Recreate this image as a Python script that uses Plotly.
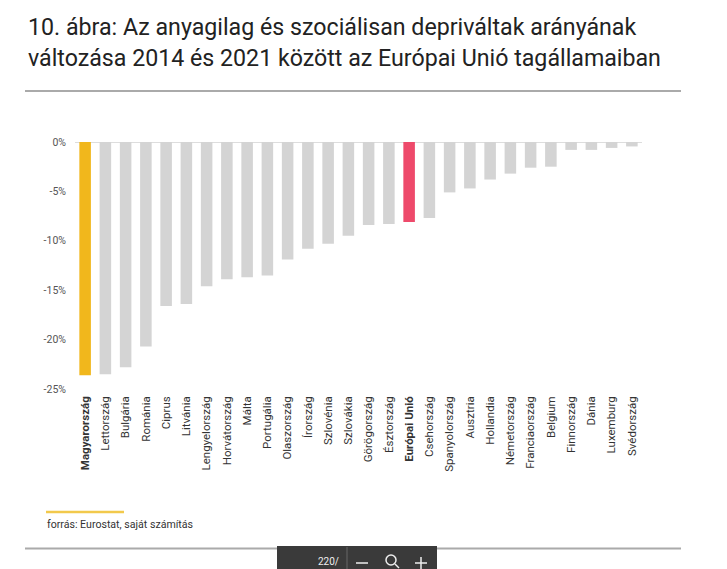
import plotly.graph_objects as go

countries = ["Magyarország", "Lettország", "Bulgária", "Románia", "Ciprus", "Litvánia",
             "Lengyelország", "Horvátország", "Málta", "Portugália", "Olaszország", "Írország",
             "Szlovénia", "Szlovákia", "Görögország", "Észtország", "Európai Unió", "Csehország",
             "Spanyolország", "Ausztria", "Hollandia", "Németország", "Franciaország", "Belgium",
             "Finnország", "Dánia", "Luxemburg", "Svédország"]
values = [-23.6, -23.5, -22.8, -20.7, -16.6, -16.4, -14.6, -13.9, -13.7, -13.5, -11.9, -10.8,
          -10.3, -9.5, -8.4, -8.3, -8.1, -7.7, -5.1, -4.7, -3.8, -3.2, -2.6, -2.5,
          -0.8, -0.8, -0.6, -0.45]
highlight = {"Magyarország": "#F1B71C", "Európai Unió": "#EE4A6B"}
bold_labels = ["Magyarország", "Európai Unió"]
y_ticks = [0, -5, -10, -15, -20, -25]
y_ticklabels = ["0%", "-5%", "-10%", "-15%", "-20%", "-25%"]
title_lines = ["10. ábra: Az anyagilag és szociálisan depriváltak arányának",
               "változása 2014 és 2021 között az Európai Unió tagállamaiban"]
source_text = "forrás: Eurostat, saját számítás"

W, H = 727, 569
L, R, T, B = 75, 85, 142, 180
PW, PH = W - L - R, H - T - B

def px(x):
    return (x - L) / PW

def py(y):
    return (H - B - y) / PH

colors = [highlight.get(c, "#D4D4D4") for c in countries]
ticktext = [f"<b>{c}</b>" if c in bold_labels else c for c in countries]

fig = go.Figure(go.Bar(x=countries, y=values, marker=dict(color=colors, line=dict(width=0)),
                       width=0.57, hoverinfo="x+y"))

fig.update_layout(
    width=W, height=H, margin=dict(l=L, r=R, t=T, b=B),
    plot_bgcolor="white", paper_bgcolor="white",
    font=dict(family="Roboto, Arial, sans-serif", color="#444"),
    showlegend=False, bargap=0.43,
    xaxis=dict(tickmode="array", tickvals=countries, ticktext=ticktext, tickangle=-90,
               showgrid=False, zeroline=False, showline=False, ticks="",
               tickfont=dict(size=11.5, color="#333"), ticklabelstandoff=4,
               range=[-0.5, len(countries) - 0.5]),
    yaxis=dict(range=[-25, 0], tickvals=y_ticks, ticktext=y_ticklabels, showgrid=False,
               zeroline=False, showline=False, ticks="", tickfont=dict(size=10.5, color="#555"),
               ticklabelstandoff=8),
)

shapes = [
    dict(type="line", xref="paper", yref="y", x0=0, x1=1, y0=0, y1=0,
         line=dict(color="#DDDDDD", width=2), layer="below"),
    dict(type="line", xref="paper", yref="paper", x0=px(25), x1=px(681), y0=py(91), y1=py(91),
         line=dict(color="#AAAAAA", width=2)),
    dict(type="line", xref="paper", yref="paper", x0=px(46), x1=px(124), y0=py(512), y1=py(512),
         line=dict(color="#F2C94C", width=2.5)),
    dict(type="line", xref="paper", yref="paper", x0=px(25), x1=px(681), y0=py(548.5), y1=py(548.5),
         line=dict(color="#AAAAAA", width=2)),
    dict(type="rect", xref="paper", yref="paper", x0=px(277), x1=px(437), y0=py(546), y1=py(575),
         fillcolor="#3A3A3A", line=dict(width=0)),
    dict(type="line", xref="paper", yref="paper", x0=px(347), x1=px(347), y0=py(547), y1=py(575),
         line=dict(color="#666666", width=1)),
    dict(type="line", xref="paper", yref="paper", x0=px(356), x1=px(368), y0=py(563), y1=py(563),
         line=dict(color="#EEEEEE", width=1.5)),
    dict(type="circle", xref="paper", yref="paper", x0=px(386), x1=px(396), y0=py(555), y1=py(565),
         line=dict(color="#EEEEEE", width=1.5)),
    dict(type="line", xref="paper", yref="paper", x0=px(395), x1=px(399), y0=py(564), y1=py(568),
         line=dict(color="#EEEEEE", width=1.5)),
    dict(type="line", xref="paper", yref="paper", x0=px(415), x1=px(427), y0=py(563), y1=py(563),
         line=dict(color="#EEEEEE", width=1.5)),
    dict(type="line", xref="paper", yref="paper", x0=px(421), x1=px(421), y0=py(557), y1=py(569),
         line=dict(color="#EEEEEE", width=1.5)),
]
fig.update_layout(shapes=shapes)

annotations = [
    dict(text=title_lines[0], xref="paper", yref="paper", x=px(26), y=py(27),
         xanchor="left", yanchor="middle", showarrow=False,
         font=dict(size=23.2, color="#222222")),
    dict(text=title_lines[1], xref="paper", yref="paper", x=px(26), y=py(58),
         xanchor="left", yanchor="middle", showarrow=False,
         font=dict(size=23.2, color="#222222")),
    dict(text=source_text, xref="paper", yref="paper", x=px(45), y=py(524),
         xanchor="left", yanchor="middle", showarrow=False,
         font=dict(size=10.6, color="#333333")),
    dict(text="220/", xref="paper", yref="paper", x=px(341), y=py(561),
         xanchor="right", yanchor="middle", showarrow=False,
         font=dict(size=10, color="#EEEEEE")),
]
fig.update_layout(annotations=annotations)

fig.write_html("out.html", config={"displayModeBar": False},
               post_script="document.body.style.margin='0';document.body.style.overflow='hidden';")
